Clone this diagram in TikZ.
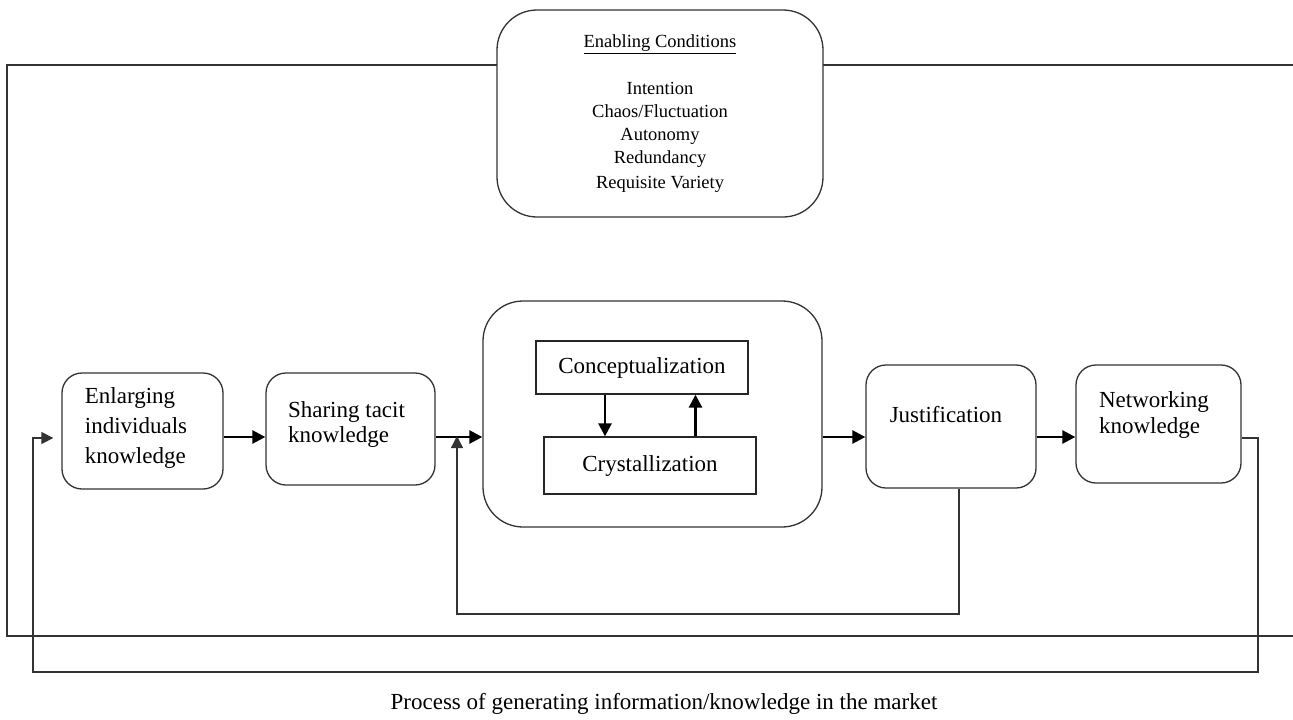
\documentclass[tikz,border=0pt]{standalone}
\usepackage{fontspec}
\setmainfont{Liberation Serif}
\usetikzlibrary{arrows.meta,calc}
\begin{document}
\begin{tikzpicture}[x=1pt,y=-1pt,
 rbox/.style={draw=black!80, line width=1.3pt, rounded corners=20pt, fill=white, inner sep=0pt},
 sbox/.style={draw=black!85, line width=1.3pt, fill=white, inner sep=0pt, font=\fontsize{23}{28}\selectfont},
 txt/.style={inner sep=0pt, align=left, font=\fontsize{23}{30}\selectfont},
 flow/.style={line width=2.6pt, -{Triangle[length=13pt,width=13pt]}},
 fb/.style={draw=black!80, line width=1.3pt},
 fbarr/.style={fb, -{Triangle[length=12pt,width=12pt]}},
]
\useasboundingbox (0,0) rectangle (1293,720);
% outer frame
\draw[fb] (1293,65) -- (7,65) -- (7,636) -- (1293,636);
% enabling conditions
\node[rbox, rounded corners=40pt, minimum width=326pt, minimum height=207pt, align=center,
      font=\fontsize{18.5}{23}\selectfont] (enab) at (660,113.5)
  {\underline{Enabling Conditions}\\[24pt]Intention\\Chaos/Fluctuation\\Autonomy\\Redundancy\\[2pt]Requisite Variety};
% process boxes
\node[rbox, minimum width=161pt, minimum height=116pt] (enl) at (142.5,431) {};
\node[txt] (enlT) at (136,428) {Enlarging\\individuals\\knowledge};
\node[rbox, minimum width=169pt, minimum height=112pt] (sha) at (350.5,429) {};
\node[txt, font=\fontsize{23}{25}\selectfont] (shaT) at (346.5,424.5) {Sharing tacit\\knowledge};
\node[rbox, rounded corners=40pt, minimum width=339pt, minimum height=226pt] (ctr) at (652.5,414) {};
\node[sbox, minimum width=212pt, minimum height=53pt] (con) at (642,367.5) {Conceptualization};
\node[sbox, minimum width=212pt, minimum height=57pt] (cry) at (650,465.5) {Crystallization};
\node[rbox, minimum width=170pt, minimum height=123pt] (jus) at (951,426.5) {};
\node[txt] (jusT) at (946,415) {Justification};
\node[rbox, minimum width=165pt, minimum height=118pt] (net) at (1158.5,424) {};
\node[txt, font=\fontsize{23}{26}\selectfont] (netT) at (1154,415) {Networking\\knowledge};
% caption
\node[inner sep=0pt, font=\fontsize{23}{28}\selectfont] (cap) at (664,704) {Process of generating information/knowledge in the market};
% coordinates
\coordinate (m) at (0,437);
\coordinate (fy) at (0,438);
\coordinate (dx) at (605,0);
\coordinate (ux) at (695.5,0);
\coordinate (fr) at (1258,672);
\coordinate (fl) at (33,672);
\coordinate (jb) at (959,614);
\coordinate (jl) at (457,614);
% main flow
\draw[flow] (enl.east |- m) -- (sha.west |- m);
\draw[flow] (sha.east |- m) -- (ctr.west |- m);
\draw[flow] (ctr.east |- m) -- (jus.west |- m);
\draw[flow] (jus.east |- m) -- (net.west |- m);
% inner loop
\draw[flow] (con.south -| dx) -- (cry.north -| dx);
\draw[flow] (cry.north -| ux) -- (con.south -| ux);
% feedback loops
\draw[fbarr] (net.east |- fy) -| (fr) -- (fl) |- ([xshift=-8pt]enl.west |- fy);
\draw[fbarr] (jus.south -| jb) -- (jb) -- (jl) -- ([yshift=1pt]jl |- m);
\end{tikzpicture}
\end{document}
